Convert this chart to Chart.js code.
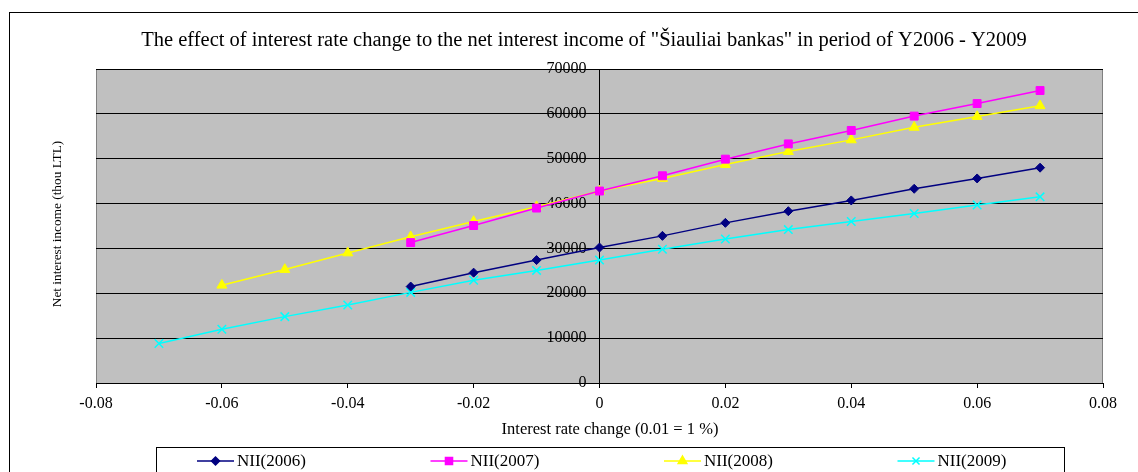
<!DOCTYPE html>
<html>
<head>
<meta charset="utf-8">
<script src="https://cdn.jsdelivr.net/npm/chart.js@4.4.1/dist/chart.umd.min.js"></script>
<style>
  html, body { margin: 0; padding: 0; background: #fff; }
  #wrap { width: 1138px; height: 472px; position: relative; }
</style>
</head>
<body>
<div id="wrap"><canvas id="c" width="1138" height="472"></canvas></div>
<script>
const FONT = "'Liberation Serif', 'Times New Roman', serif";

const rateChange = [-0.07, -0.06, -0.05, -0.04, -0.03, -0.02, -0.01, 0, 0.01, 0.02, 0.03, 0.04, 0.05, 0.06, 0.07];
const nii2006 = [null, null, null, null, 21500, 24600, 27400, 30200, 32800, 35700, 38300, 40700, 43300, 45600, 48000];
const nii2007 = [null, null, null, null, 31300, 35100, 39000, 42800, 46200, 49900, 53300, 56300, 59500, 62300, 65200];
const nii2008 = [null, 21800, 25300, 29000, 32600, 36000, 39300, 42800, 45600, 48700, 51600, 54200, 57000, 59400, 61800];
const nii2009 = [8800, 12000, 14800, 17400, 20200, 22900, 25100, 27400, 29800, 32100, 34200, 36000, 37800, 39700, 41500];

const seriesLabels = ['NII(2006)', 'NII(2007)', 'NII(2008)', 'NII(2009)'];
const xTicks = [-0.08, -0.06, -0.04, -0.02, 0, 0.02, 0.04, 0.06, 0.08];
const yTicks = [0, 10000, 20000, 30000, 40000, 50000, 60000, 70000];

const TITLE = 'The effect of interest rate change to the net interest income of "Šiauliai bankas" in period of Y2006 - Y2009';
const X_TITLE = 'Interest rate change (0.01 = 1 %)';
const Y_TITLE = 'Net interest income (thou LTL)';

const points = vals => rateChange.map((x, i) => ({ x, y: vals[i] })).filter(p => p.y !== null);

const STYLES = [
  { color: '#000080', pointStyle: 'rectRot', radius: 4.5, legendRadius: 4 },
  { color: '#FF00FF', pointStyle: 'rect', radius: 5.6, legendRadius: 5 },
  { color: '#FFFF00', pointStyle: 'triangle', radius: 5.8, legendRadius: 5 },
  { color: '#00FFFF', pointStyle: 'crossRot', radius: 6, legendRadius: 5 },
];

const datasets = [nii2006, nii2007, nii2008, nii2009].map((vals, i) => ({
  label: seriesLabels[i],
  data: points(vals),
  showLine: true,
  borderColor: STYLES[i].color,
  backgroundColor: STYLES[i].color,
  borderWidth: 1.5,
  pointStyle: STYLES[i].pointStyle,
  pointRadius: STYLES[i].radius,
  pointBorderWidth: STYLES[i].pointStyle === 'crossRot' ? 1.5 : 1,
  pointHoverRadius: STYLES[i].radius,
}));

// center-positioned y axis puts its labels right on the axis line; nudge them left of the ticks
function shiftYLabels(scale) {
  if (scale._shifted) return;
  const orig = scale._computeLabelItems;
  scale._computeLabelItems = function (area) {
    const items = orig.call(this, area);
    items.forEach(it => { it.options.translation[0] -= 13; });
    return items;
  };
  scale._shifted = true;
}

// grey plot area, outer frame, titles and the boxed legend below the axis
const excelFrame = {
  id: 'excelFrame',
  beforeDraw(chart) {
    const { ctx, chartArea: a } = chart;
    ctx.save();
    ctx.fillStyle = '#C0C0C0';
    ctx.fillRect(a.left, a.top, a.right - a.left, a.bottom - a.top);
    ctx.strokeStyle = '#808080';
    ctx.lineWidth = 1;
    ctx.strokeRect(a.left + 0.5, a.top + 0.5, a.right - a.left - 1, a.bottom - a.top);
    ctx.strokeStyle = '#000';
    ctx.strokeRect(9.5, 12.5, 1300, 600);
    ctx.restore();
  },
  afterDraw(chart) {
    const { ctx } = chart;
    ctx.save();
    ctx.fillStyle = '#000';
    ctx.textAlign = 'center';
    ctx.textBaseline = 'middle';
    ctx.font = '20.5px ' + FONT;
    ctx.fillText(TITLE, 584, 41);
    ctx.font = '16.5px ' + FONT;
    ctx.fillText(X_TITLE, 610, 430);
    ctx.save();
    ctx.translate(58, 224);
    ctx.rotate(-Math.PI / 2);
    ctx.font = '13.3px ' + FONT;
    ctx.fillText(Y_TITLE, 0, 0);
    ctx.restore();

    ctx.strokeStyle = '#000';
    ctx.lineWidth = 1;
    ctx.strokeRect(156.5, 447.5, 908, 60);
    ctx.font = '17px ' + FONT;
    ctx.textAlign = 'left';
    chart.data.datasets.forEach((ds, i) => {
      const x0 = 197 + i * 233.5, y = 461;
      ctx.strokeStyle = ds.borderColor;
      ctx.lineWidth = 1.5;
      ctx.beginPath();
      ctx.moveTo(x0, y);
      ctx.lineTo(x0 + 37, y);
      ctx.stroke();
      ctx.fillStyle = ds.backgroundColor;
      Chart.helpers.drawPoint(ctx, {
        pointStyle: ds.pointStyle, radius: STYLES[i].legendRadius, rotation: 0, borderWidth: 1.5
      }, x0 + 18.5, y);
      ctx.fillStyle = '#000';
      ctx.fillText(ds.label, x0 + 40, y + 1);
    });
    ctx.restore();
  }
};

new Chart(document.getElementById('c'), {
  type: 'scatter',
  data: { datasets },
  options: {
    responsive: false,
    animation: false,
    layout: { padding: { left: 96, right: 35, top: 69, bottom: 59 } },
    plugins: { legend: { display: false }, title: { display: false }, tooltip: { enabled: false } },
    scales: {
      x: {
        type: 'linear',
        min: xTicks[0],
        max: xTicks[xTicks.length - 1],
        afterFit: s => { s.height = 30; },
        afterBuildTicks: s => { s.ticks = xTicks.map(v => ({ value: v })); },
        ticks: {
          color: '#000',
          padding: 6,
          font: { size: 16, family: FONT },
          callback: v => String(+v.toFixed(2)),
        },
        grid: { drawOnChartArea: false, color: '#000', tickLength: 5 },
        border: { color: '#000' },
      },
      y: {
        type: 'linear',
        position: { x: 0 },
        min: yTicks[0],
        max: yTicks[yTicks.length - 1],
        afterBuildTicks: s => { s.ticks = yTicks.map(v => ({ value: v })); },
        afterUpdate: shiftYLabels,
        ticks: {
          color: '#000',
          font: { size: 16, family: FONT },
          callback: v => String(v),
        },
        grid: { color: '#000', tickLength: 5 },
        border: { color: '#000' },
      },
    },
  },
  plugins: [excelFrame],
});
</script>
</body>
</html>
